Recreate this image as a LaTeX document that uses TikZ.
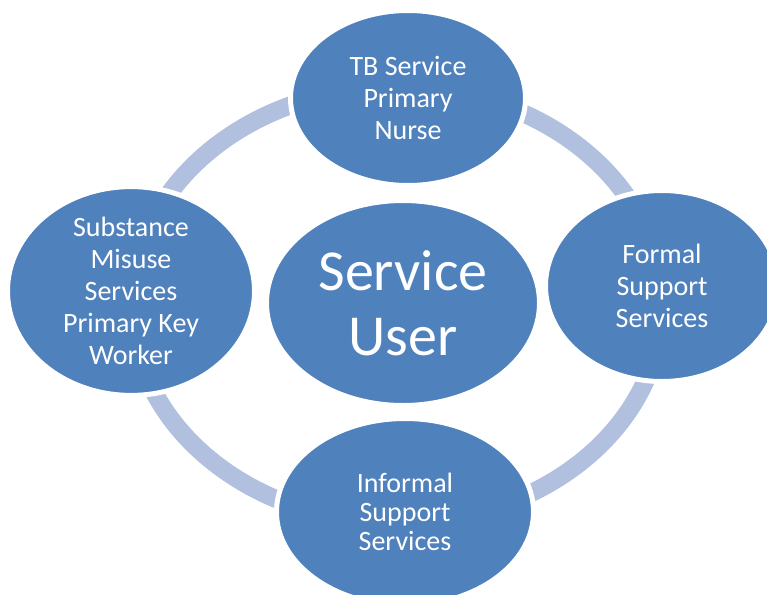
\documentclass[tikz,border=0pt]{standalone}
\usepackage{fontspec}
\setmainfont{Carlito}
\usetikzlibrary{shapes.geometric}
\definecolor{bubbleblue}{RGB}{79,129,189}
\definecolor{ringblue}{RGB}{176,192,222}

\begin{document}
\begin{tikzpicture}[x=1pt, y=-1pt,
	bubble/.style={ellipse, fill=bubbleblue, draw=white, line width=5pt, inner sep=0pt, text=white, align=center, font=\fontsize{28}{32}\selectfont},
	ring/.style={ringblue, line width=18pt}]
	\useasboundingbox (0,0) rectangle (767,594);
	\coordinate (mid) at (397,305);
	\draw [ring] (mid) ellipse [x radius=265, y radius=218];
	\node [bubble, minimum width=273pt, minimum height=205pt, font=\fontsize{58}{65}\selectfont] (user) at (403,303) {Service\\User};
	\node [bubble, minimum width=235pt, minimum height=175pt] (nurse) at (408,98) {TB Service\\Primary\\Nurse};
	\node [bubble, minimum width=247pt, minimum height=205pt] (misuse) at (131,291) {Substance\\Misuse\\Services\\Primary Key\\Worker};
	\node [bubble, minimum width=233pt, minimum height=191pt] (formal) at (662,286) {Formal\\Support\\Services};
	\node [bubble, minimum width=257pt, minimum height=187pt, font=\fontsize{28}{29}\selectfont] (informal) at (405,512) {Informal\\Support\\Services};
\end{tikzpicture}
\end{document}
